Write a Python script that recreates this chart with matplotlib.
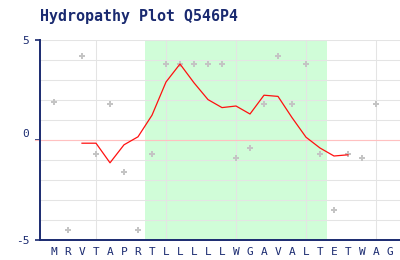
import numpy as np
import matplotlib
matplotlib.use("Agg")
import matplotlib.pyplot as plt
from matplotlib.transforms import ScaledTranslation

# sequence and per-residue hydropathy (gray dots)
residues = list("MRVTAPRTLLLLLWGAVALTETWAG")
raw_values = [1.9, -4.5, 4.2, -0.7, 1.8, -1.6, -4.5, -0.7, 3.8, 3.8, 3.8, 3.8, 3.8,
              -0.9, -0.4, 1.8, 4.2, 1.8, 3.8, -0.7, -3.5, -0.7, -0.9, 1.8, np.nan]

# smoothed curve (red line), starting at residue index 2
smooth_start = 2
smooth_values = [-0.16, -0.16, -1.14, -0.24, 0.16, 1.24, 2.90, 3.80, 2.86, 2.02,
                 1.62, 1.70, 1.30, 2.24, 2.18, 1.12, 0.14, -0.40, -0.80, -0.74]

# predicted transmembrane region (green band), residue indices
tm_start, tm_end = 7, 19

title = "Hydropathy Plot Q546P4"

navy = "#1a2a70"
mono = "DejaVu Sans Mono"

fig = plt.figure(figsize=(4.0, 2.6), dpi=100)
ax = fig.add_axes([0.1, 1 - 240 / 260, 0.9, 200 / 260])

x_all = np.arange(len(residues))
ax.axvspan(tm_start - 0.5, tm_end + 0.5, color="#d0fdd8", lw=0, zorder=0)

# grid
for y in range(-5, 6):
    ax.axhline(y, color="#e4e4e4", lw=0.75, zorder=1)
for xg in range(3, len(residues), 5):
    ax.axvline(xg, color="#e4e4e4", lw=0.75, zorder=1)
ax.axhline(0, xmin=-5 / 360, xmax=1, color="#ffc0c0", lw=0.8, zorder=2, clip_on=False)

ax.plot(x_all, raw_values, linestyle="none", marker="P", ms=4.2, color="#c4c4c4",
        markeredgewidth=0, zorder=3)
xs = np.arange(smooth_start, smooth_start + len(smooth_values))
ax.plot(xs, smooth_values, color="#ff1010", lw=0.9, zorder=4)

ax.set_xlim(-1, (400 - 54) / 14)
ax.set_ylim(-5, 5)

ax.set_xticks(x_all)
ax.set_xticklabels(residues, fontfamily=mono, fontsize=8, color=navy)
ax.tick_params(axis="x", length=0, pad=5)
ax.set_yticks([-5, 0, 5])
ax.set_yticklabels(["-5", "0", "5"], fontfamily=mono, fontsize=8, color=navy)
ax.tick_params(axis="y", length=3.6, width=1.2, color=navy, pad=4)
zero_lab = ax.get_yticklabels()[1]
zero_lab.set_transform(zero_lab.get_transform() + ScaledTranslation(0, 5 / 72, fig.dpi_scale_trans))

for side in ["top", "right"]:
    ax.spines[side].set_visible(False)
for side in ["left", "bottom"]:
    ax.spines[side].set_color(navy)
    ax.spines[side].set_linewidth(1.4)
ax.set_facecolor("white")

fig.text(40 / 400, 1 - 21 / 260, title, fontfamily=mono, fontweight="bold",
         fontsize=10.8, color=navy, ha="left", va="baseline")

fig.savefig("out.png", dpi=100)
